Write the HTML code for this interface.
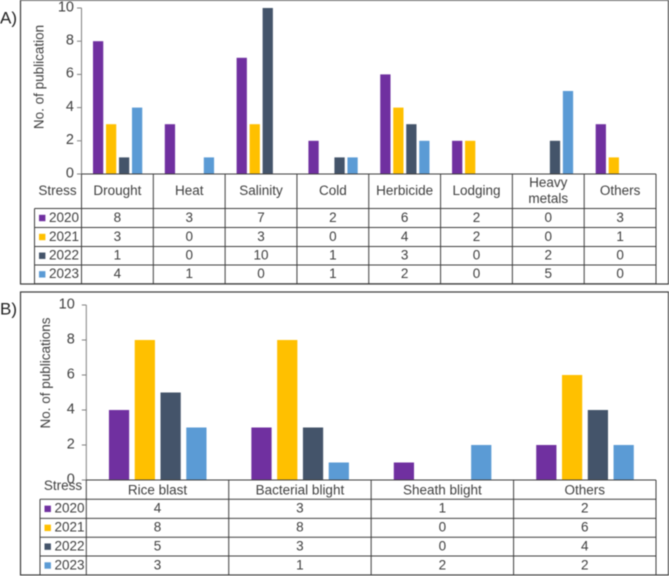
<!DOCTYPE html>
<html lang="en">
<head>
<meta charset="utf-8">
<title>Publications by stress type</title>
<style>
html,body{margin:0;padding:0;background:#fff;width:669px;height:576px;overflow:hidden}
svg{display:block;font-family:"Liberation Sans",Arial,sans-serif;filter:blur(0.4px)}
text{fill:#404040}
</style>
</head>
<body>
<svg id="figure" width="669" height="576" viewBox="0 0 669 576" xmlns="http://www.w3.org/2000/svg"></svg>
<script>
const years = ['2020', '2021', '2022', '2023'];
const colors = ['#7030A0', '#FFC000', '#44546A', '#5B9BD5'];
const yTicks = [0, 2, 4, 6, 8, 10];

const categoriesA = [['Drought'], ['Heat'], ['Salinity'], ['Cold'], ['Herbicide'], ['Lodging'], ['Heavy', 'metals'], ['Others']];
const values2020A = [8, 3, 7, 2, 6, 2, 0, 3];
const values2021A = [3, 0, 3, 0, 4, 2, 0, 1];
const values2022A = [1, 0, 10, 1, 3, 0, 2, 0];
const values2023A = [4, 1, 0, 1, 2, 0, 5, 0];

const categoriesB = [['Rice blast'], ['Bacterial blight'], ['Sheath blight'], ['Others']];
const values2020B = [4, 3, 1, 2];
const values2021B = [8, 8, 0, 6];
const values2022B = [5, 3, 0, 4];
const values2023B = [3, 1, 2, 2];

const svg = document.getElementById('figure');
const NS = 'http://www.w3.org/2000/svg';

function make(tag, attrs, parent, content) {
  const el = document.createElementNS(NS, tag);
  for (const k in attrs) el.setAttribute(k, attrs[k]);
  if (content !== undefined) el.textContent = content;
  parent.appendChild(el);
  return el;
}

function line(parent, x1, y1, x2, y2, stroke, name) {
  const el = make('line', { x1, y1, x2, y2, stroke, 'stroke-width': 1 }, parent);
  
  
  return el;
}

function label(parent, x, y, str, size, anchor, name) {
  const el = make('text', { x, y: y - 0.7, 'font-size': size, 'text-anchor': anchor, 'dominant-baseline': 'central' }, parent, str);
  
  
  return el;
}

function drawPanel(cfg) {
  const g = make('g', {}, svg);
  
  

  const frame = make('rect', { x: cfg.frame[0], y: cfg.frame[1], width: cfg.frame[2], height: cfg.frame[3], fill: '#fff', stroke: '#3a3a3a', 'stroke-width': 1.2 }, g);
  
  

  const panelLabel = make('text', { x: cfg.letter[0], y: cfg.letter[1], 'font-size': 17, 'dominant-baseline': 'central', style: 'fill:#222' }, g, cfg.letter[2]);
  
  

  const yScale = v => cfg.y0 + (cfg.y10 - cfg.y0) * v / 10;
  const n = cfg.categories.length;
  const groupW = (cfg.xR - cfg.x0) / n;
  const xOf = (c, s) => cfg.x0 + groupW * c + cfg.barOffset * groupW + s * cfg.barPitch * groupW;
  const barW = cfg.barWidth * groupW;

  // bars
  cfg.series.forEach((vals, s) => {
    vals.forEach((v, c) => {
      if (v === 0) return;
      const bar = make('rect', { x: xOf(c, s), y: yScale(v), width: barW, height: cfg.y0 - yScale(v), fill: colors[s] }, g);
      
      
    });
  });

  // y axis
  line(g, cfg.x0, cfg.y10, cfg.x0, cfg.y0, '#808080', cfg.id + '-y-axis');
  yTicks.forEach(t => {
    line(g, cfg.x0 - 4.5, yScale(t), cfg.x0, yScale(t), '#808080', cfg.id + '-y-tick');
    label(g, cfg.x0 - cfg.tickGap, yScale(t), String(t), 14.5, 'end', cfg.id + '-y-tick-label');
  });

  const title = label(g, 0, 0, cfg.yTitle, 13.5, 'middle', cfg.id + '-y-axis-title');
  title.setAttribute('transform', 'translate(' + cfg.titlePos[0] + ',' + cfg.titlePos[1] + ') rotate(-90)');

  // data table
  const rows = cfg.rows;
  const tc = '#3f3f3f';
  line(g, cfg.x0, rows[0], cfg.xR, rows[0], tc, cfg.id + '-table-top');
  for (let r = 1; r < rows.length; r++) {
    line(g, cfg.tableLeft, rows[r], cfg.xR, rows[r], tc, cfg.id + '-table-row-line');
  }
  line(g, cfg.tableLeft, rows[1], cfg.tableLeft, rows[rows.length - 1], tc, cfg.id + '-table-left');
  for (let c = 0; c <= n; c++) {
    const x = cfg.x0 + groupW * c;
    line(g, x, rows[0], x, rows[rows.length - 1], tc, cfg.id + '-table-column-line');
  }

  label(g, cfg.stress[0], cfg.stress[1], 'Stress', 13.5, 'middle', cfg.id + '-stress-header');

  cfg.categories.forEach((lines, c) => {
    const cx = cfg.x0 + groupW * (c + 0.5);
    const cy = (rows[0] + rows[1]) / 2 + cfg.headerShift;
    lines.forEach((str, i) => {
      const off = (i - (lines.length - 1) / 2) * 16;
      label(g, cx, cy + off, str, 13.5, 'middle', cfg.id + '-category-label');
    });
  });

  years.forEach((yr, s) => {
    const cy = (rows[s + 1] + rows[s + 2]) / 2;
    const key = make('rect', { x: cfg.tableLeft + 4.5, y: cy - 3.2, width: 6.4, height: 6.4, fill: colors[s] }, g);
    
    
    label(g, cfg.tableLeft + 14.5, cy, yr, 13.5, 'start', 'legend-entry-' + yr);
    cfg.series[s].forEach((v, c) => {
      label(g, cfg.x0 + groupW * (c + 0.5), cy, String(v), 13.5, 'middle', cfg.id + '-table-value');
    });
  });
}

drawPanel({
  id: 'panel-a',
  frame: [20.5, 0.2, 648, 283.8],
  letter: [0, 18, 'A)'],
  categories: categoriesA,
  series: [values2020A, values2021A, values2022A, values2023A],
  x0: 81.5, xR: 656, y0: 174, y10: 8,
  barOffset: 0.16, barPitch: 0.181, barWidth: 0.143,
  tickGap: 7.5,
  yTitle: 'No. of publication',
  titlePos: [39.5, 77],
  rows: [174, 208.5, 227.5, 246.5, 265, 283.7],
  tableLeft: 34.5,
  stress: [57.5, 191],
  headerShift: -0.2
});

drawPanel({
  id: 'panel-b',
  frame: [20.5, 292, 648, 283],
  letter: [0, 309, 'B)'],
  categories: categoriesB,
  series: [values2020B, values2021B, values2022B, values2023B],
  x0: 86.3, xR: 656, y0: 480, y10: 305,
  barOffset: 0.159, barPitch: 0.181, barWidth: 0.142,
  tickGap: 11.5,
  yTitle: 'No. of publications',
  titlePos: [46, 373],
  rows: [480, 499.3, 518.4, 537.3, 556, 575],
  tableLeft: 40,
  stress: [63, 486],
  headerShift: 0.8
});
</script>
</body>
</html>
